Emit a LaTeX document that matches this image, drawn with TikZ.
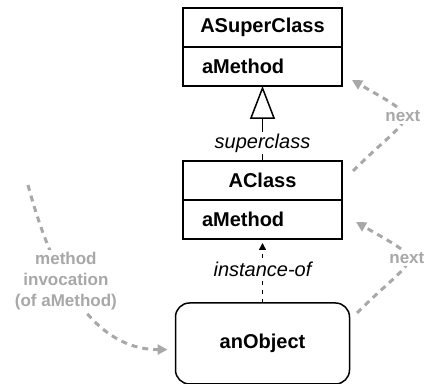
\documentclass[tikz,border=0pt]{standalone}
\usepackage{fontspec}
\setmainfont{Liberation Sans}
\usetikzlibrary{positioning}
\usetikzlibrary{arrows.meta}
\definecolor{callgray}{RGB}{168,168,168}

\begin{document}
\begin{tikzpicture}[x=0.5pt,y=0.5pt,
		classname/.style={draw,line width=0.75pt,outer sep=0pt,inner sep=0pt,minimum width=79.5pt,minimum height=19.5pt,font=\bfseries},
		methodname/.style={classname,inner xsep=9.5pt,text width=60.5pt,align=left},
		objectbox/.style={draw,line width=0.75pt,rounded corners=7pt,outer sep=0pt,minimum width=87pt,minimum height=40.5pt,font=\bfseries},
		rolelabel/.style={fill=white,inner sep=1pt,font=\itshape},
		callpath/.style={draw=callgray,line width=1.5pt,dash pattern=on 3pt off 2.5pt,-{Triangle[length=5pt,width=5pt]}},
		calllabel/.style={fill=white,text=callgray,align=center,inner sep=1pt,font=\fontsize{8.5}{10.3}\selectfont\bfseries}]
		\useasboundingbox (0,0) rectangle (424,384);
		% Classes
		\node [classname] at (262.5,356.5) (superhead) {ASuperClass};
		\node [methodname, below=0pt of superhead] (supermeth) {aMethod};
		\node [classname, below=37.5pt of supermeth] (classhead) {AClass};
		\node [methodname, below=0pt of classhead] (classmeth) {aMethod};
		% Object
		\node [objectbox, below=32pt of classmeth] (obj) {anObject};
		
		% Relations
		\draw [line width=0.75pt,-{Triangle[open,length=16.5pt,width=12.5pt]}] (classhead) -- node [rolelabel,pos=0.24] (superlabel) {superclass} (supermeth);
		\draw [line width=0.75pt,dash pattern=on 2pt off 2.5pt,-{Triangle[length=3.5pt,width=3.5pt]},shorten >=2pt] (obj) -- node [rolelabel,pos=0.53] (instlabel) {instance-of} (classmeth);
		
		% Lookup
		\coordinate (callstart) at (28,199);
		\coordinate (nextstartup) at (353,213); \coordinate (nextendup) at (352,304);
		\coordinate (nextstartlow) at (357,71); \coordinate (nextendlow) at (356,162);
		\draw [callpath,shorten >=4pt] (callstart) to [out=-75,in=180] node [calllabel,pos=0.41] (calltext) {method\\invocation\\(of aMethod)} (obj.184);
		\draw [callpath] (nextstartlow) to [out=45,in=-30,looseness=2.4] node [calllabel,pos=0.55] (nextlow) {next} (nextendlow);
		\draw [callpath] (nextstartup) to [out=45,in=-30,looseness=2.4] node [calllabel,pos=0.55] (nextup) {next} (nextendup);
\end{tikzpicture}
\end{document}
